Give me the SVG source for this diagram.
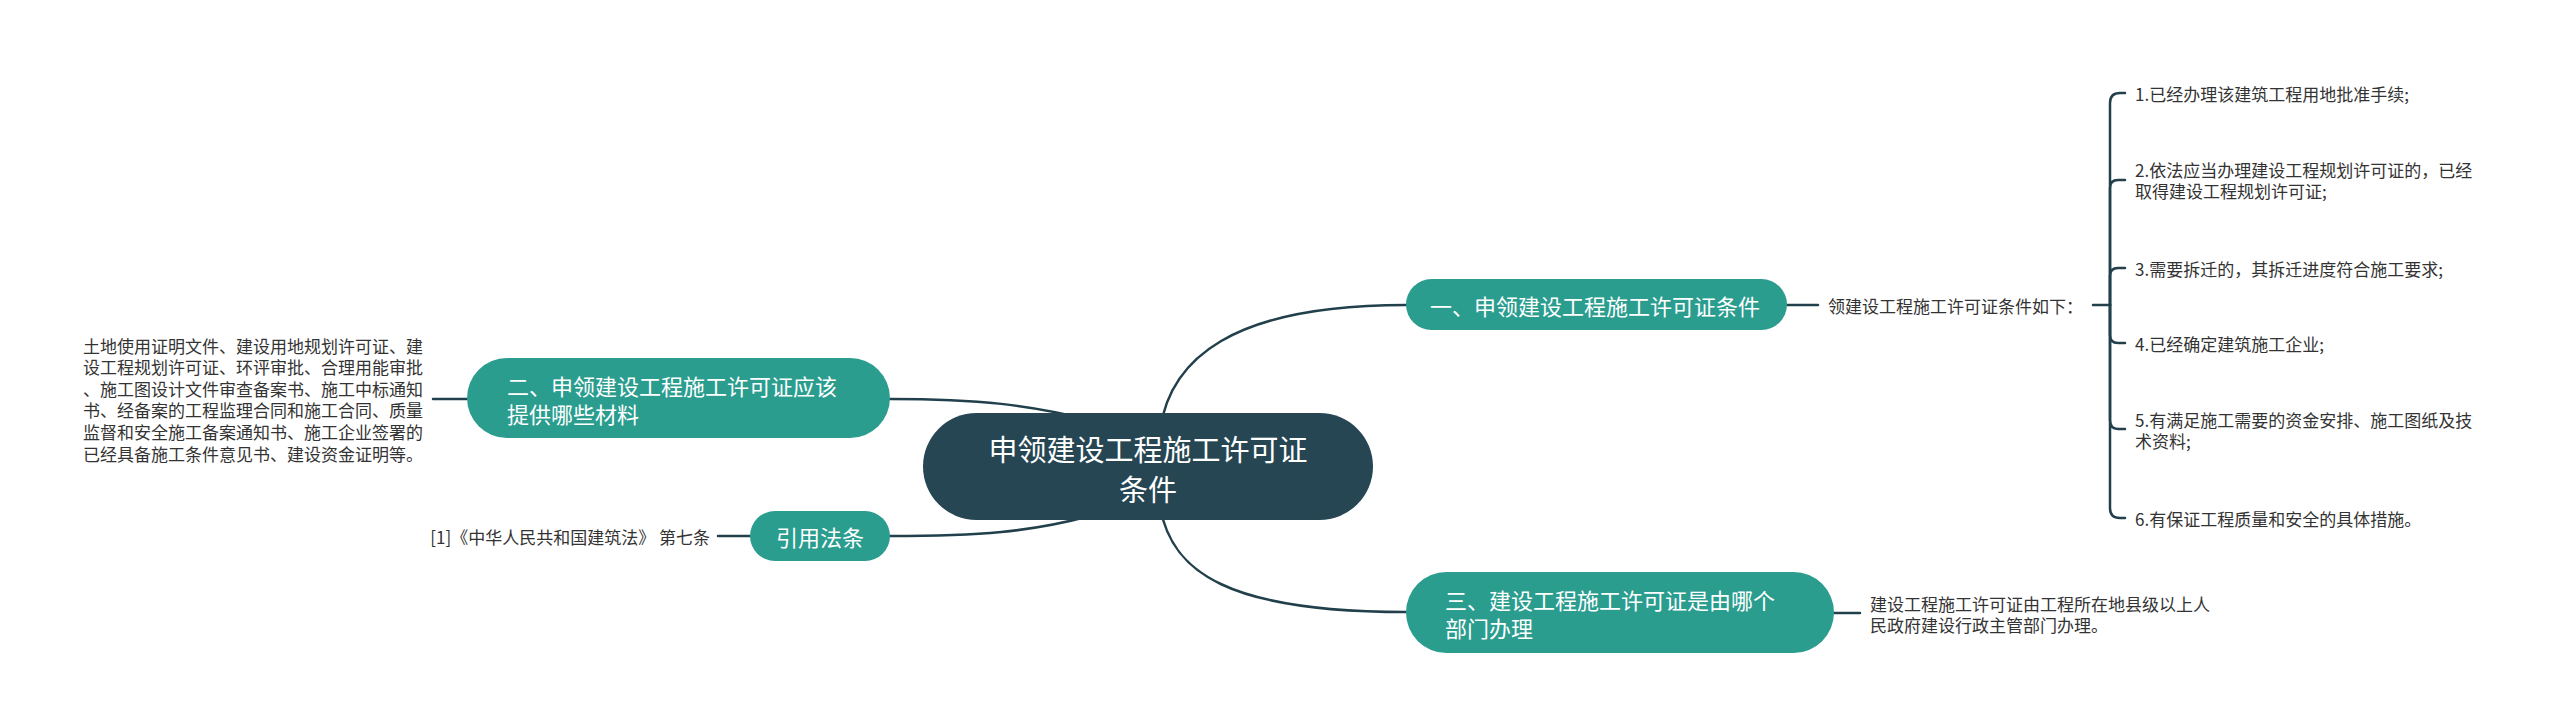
<svg xmlns="http://www.w3.org/2000/svg" width="2560" height="728" viewBox="0 0 2560 728">
<style>
.t{font-family:"Noto Sans CJK SC","Noto Sans",sans-serif;dominant-baseline:central}
.w{fill:#ffffff}
.d{fill:#333333;font-size:17px}
.n{font-size:22px}
.ln{fill:none;stroke:#21404c;stroke-width:2.5;stroke-linecap:round}
.sub{fill:#2a9d8f}
</style>
<rect width="2560" height="728" fill="#ffffff"/>
<g id="connectors" class="ln">
<path d="M1160,430 C1170,360 1230,305 1406,305"/>
<path d="M1160,505 C1170,573 1230,612 1406,612"/>
<path d="M1090,420 C1030,405 980,399 890,399"/>
<path d="M1090,516 C1030,532 980,536 890,536"/>
<path d="M1787,305 L1818,305"/>
<path d="M2093,305 L2110,305"/>
<path d="M2110,305 L2110,103 Q2110,93 2120,93 L2125,93"/>
<path d="M2110,305 L2110,188 Q2110,180 2118,180 L2125,180"/>
<path d="M2110,305 L2110,276 Q2110,268 2118,268 L2125,268"/>
<path d="M2110,305 L2110,335 Q2110,343 2118,343 L2125,343"/>
<path d="M2110,305 L2110,420 Q2110,429 2118,429 L2125,429"/>
<path d="M2110,305 L2110,508 Q2110,518 2120,518 L2125,518"/>
<path d="M1834,613 L1860,613"/>
<path d="M467,399 L433,399"/>
<path d="M750,536 L718,536"/>
</g>
<g id="root">
<rect x="923" y="413" width="450" height="107" rx="53.5" fill="#264653"/>
<text class="t w" x="1148" y="448" font-size="29" text-anchor="middle">申领建设工程施工许可证</text>
<text class="t w" x="1148" y="488" font-size="29" text-anchor="middle">条件</text>
</g>
<g id="node1">
<rect class="sub" x="1406" y="279" width="381" height="51" rx="25.5"/>
<text class="t w n" x="1430" y="305">一、申领建设工程施工许可证条件</text>
</g>
<g id="node1-detail">
<text class="t d" x="1828" y="305">领建设工程施工许可证条件如下：</text>
</g>
<g id="item1"><text class="t d" x="2135" y="93">1.已经办理该建筑工程用地批准手续;</text></g>
<g id="item2"><text class="t d" x="2135" y="169">2.依法应当办理建设工程规划许可证的，已经</text><text class="t d" x="2135" y="190.5">取得建设工程规划许可证;</text></g>
<g id="item3"><text class="t d" x="2135" y="268">3.需要拆迁的，其拆迁进度符合施工要求;</text></g>
<g id="item4"><text class="t d" x="2135" y="343">4.已经确定建筑施工企业;</text></g>
<g id="item5"><text class="t d" x="2135" y="419">5.有满足施工需要的资金安排、施工图纸及技</text><text class="t d" x="2135" y="440.5">术资料;</text></g>
<g id="item6"><text class="t d" x="2135" y="518">6.有保证工程质量和安全的具体措施。</text></g>
<g id="node3">
<rect class="sub" x="1406" y="572" width="428" height="81" rx="40.5"/>
<text class="t w n" x="1445" y="599">三、建设工程施工许可证是由哪个</text>
<text class="t w n" x="1445" y="627">部门办理</text>
</g>
<g id="node3-detail">
<text class="t d" x="1870" y="603">建设工程施工许可证由工程所在地县级以上人</text>
<text class="t d" x="1870" y="624.5">民政府建设行政主管部门办理。</text>
</g>
<g id="node2">
<rect class="sub" x="467" y="358" width="423" height="80" rx="40"/>
<text class="t w n" x="507" y="385">二、申领建设工程施工许可证应该</text>
<text class="t w n" x="507" y="413">提供哪些材料</text>
</g>
<g id="node2-detail">
<text class="t d" x="83" y="345">土地使用证明文件、建设用地规划许可证、建</text>
<text class="t d" x="83" y="366.6">设工程规划许可证、环评审批、合理用能审批</text>
<text class="t d" x="83" y="388.2">、施工图设计文件审查备案书、施工中标通知</text>
<text class="t d" x="83" y="409.8">书、经备案的工程监理合同和施工合同、质量</text>
<text class="t d" x="83" y="431.4">监督和安全施工备案通知书、施工企业签署的</text>
<text class="t d" x="83" y="453">已经具备施工条件意见书、建设资金证明等。</text>
</g>
<g id="node4">
<rect class="sub" x="750" y="511" width="140" height="50" rx="25"/>
<text class="t w n" x="820" y="536" text-anchor="middle">引用法条</text>
</g>
<g id="node4-detail">
<text class="t d" x="710" y="536" text-anchor="end">[1]《中华人民共和国建筑法》 第七条</text>
</g>
</svg>
